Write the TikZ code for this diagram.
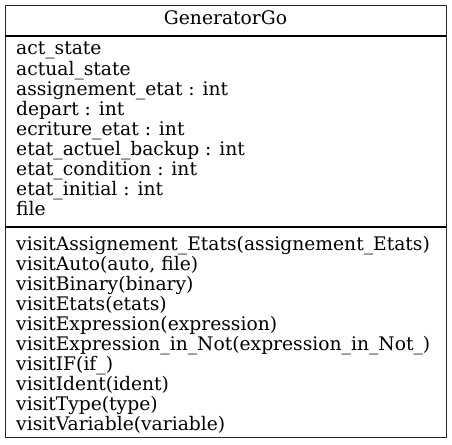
\documentclass[tikz,border=0pt]{standalone}
\usepackage{fontspec}
\setmainfont{DejaVu Serif}
\begin{document}
\begin{tikzpicture}[x=1pt,y=-1pt,
  txt/.style={anchor=base west,inner sep=0pt,font=\fontsize{18.7}{20}\selectfont},
  hdr/.style={anchor=base,inner sep=0pt,font=\fontsize{18.7}{20}\selectfont},
  frame/.style={draw=black!85,line width=1.4pt,inner sep=0pt,anchor=north west,minimum width=441pt,minimum height=432pt},
  sep/.style={draw=black,line width=1.2pt}]
\useasboundingbox (0,0) rectangle (452,444);
\node[frame] (box) at (5,5) {};
\coordinate (s1l) at (5,36); \coordinate (s1r) at (446,36);
\coordinate (s2l) at (5,227); \coordinate (s2r) at (446,227);
\draw[sep] (s1l) -- (s1r);
\draw[sep] (s2l) -- (s2r);
\node[hdr] (title) at (225.5,25) {GeneratorGo};
\node[txt] (a1) at (16,55) {act\_state};
\node[txt] (a2) at (16,75) {actual\_state};
\node[txt] (a3) at (16,95) {assignement\_etat : int};
\node[txt] (a4) at (16,115) {depart : int};
\node[txt] (a5) at (16,135) {ecriture\_etat : int};
\node[txt] (a6) at (16,155) {etat\_actuel\_backup : int};
\node[txt] (a7) at (16,175) {etat\_condition : int};
\node[txt] (a8) at (16,195) {etat\_initial : int};
\node[txt] (a9) at (16,215) {file};
\node[txt] (m1) at (16,250) {visitAssignement\_Etats(assignement\_Etats)};
\node[txt] (m2) at (16,270) {visitAuto(auto, file)};
\node[txt] (m3) at (16,290) {visitBinary(binary)};
\node[txt] (m4) at (16,310) {visitEtats(etats)};
\node[txt] (m5) at (16,330) {visitExpression(expression)};
\node[txt] (m6) at (16,350) {visitExpression\_in\_Not(expression\_in\_Not\_)};
\node[txt] (m7) at (16,370) {visitIF(if\_)};
\node[txt] (m8) at (16,390) {visitIdent(ident)};
\node[txt] (m9) at (16,410) {visitType(type)};
\node[txt] (m10) at (16,430) {visitVariable(variable)};
\end{tikzpicture}
\end{document}
